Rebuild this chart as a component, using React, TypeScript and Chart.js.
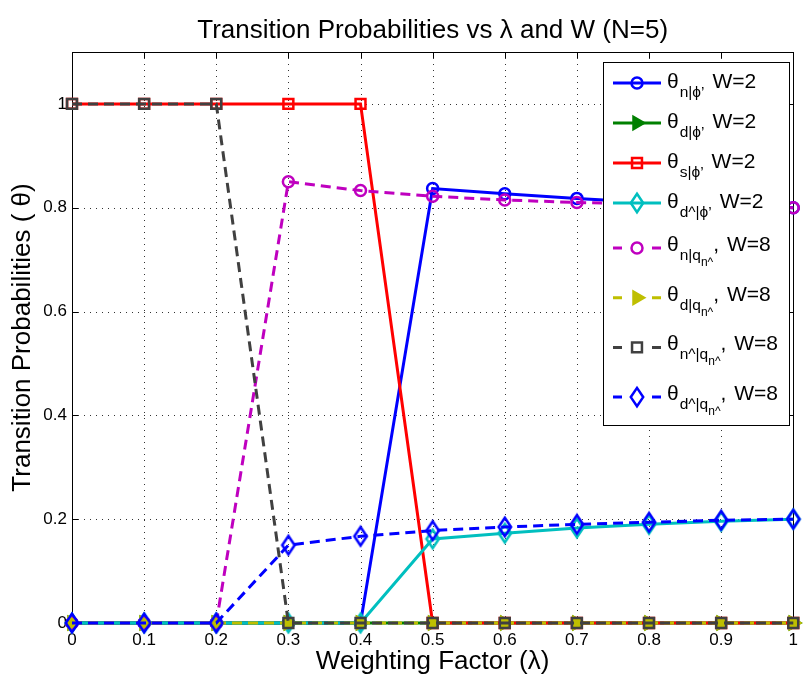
import React, { useEffect, useRef } from 'react';
import { Chart, registerables } from 'chart.js';

Chart.register(...registerables);

// ---------------- data ----------------
const lambda = [0, 0.1, 0.2, 0.3, 0.4, 0.5, 0.6, 0.7, 0.8, 0.9, 1];
const xTickLabels = ['0', '0.1', '0.2', '0.3', '0.4', '0.5', '0.6', '0.7', '0.8', '0.9', '1'];
const yTickValues = [0, 0.2, 0.4, 0.6, 0.8, 1];
const yTickLabels = ['0', '0.2', '0.4', '0.6', '0.8', '1'];

const thetaN_W2 = [0, 0, 0, 0, 0, 0.837, 0.827, 0.818, 0.81, 0.805, 0.8];
const thetaD_W2 = [0, 0, 0, 0, 0, 0, 0, 0, 0, 0, 0];
const thetaS_W2 = [1, 1, 1, 1, 1, 0, 0, 0, 0, 0, 0];
const thetaDhat_W2 = [0, 0, 0, 0, 0, 0.162, 0.173, 0.183, 0.19, 0.196, 0.2];
const thetaN_W8 = [0, 0, 0, 0.85, 0.833, 0.822, 0.815, 0.81, 0.807, 0.803, 0.8];
const thetaD_W8 = [0, 0, 0, 0, 0, 0, 0, 0, 0, 0, 0];
const thetaNhat_W8 = [1, 1, 1, 0, 0, 0, 0, 0, 0, 0, 0];
const thetaDhat_W8 = [0, 0, 0, 0.15, 0.167, 0.178, 0.185, 0.19, 0.194, 0.198, 0.2];

const titleText = 'Transition Probabilities vs \u03bb and W (N=5)';
const xTitle = 'Weighting Factor (\u03bb)';
const yTitle = 'Transition Probabilities ( \u03b8)';

const FONT = "'Liberation Sans', Arial, Helvetica, 'DejaVu Sans', sans-serif";

type Spec = {
  values: number[];
  color: string;
  dashed: boolean;
  marker: 'circle' | 'triangle' | 'rect' | 'diamond';
  filled: boolean;
  sub: string;
  subsub: string;
  w: string;
};

const series: Spec[] = [
  { values: thetaN_W2, color: '#0000ff', dashed: false, marker: 'circle', filled: false, sub: 'n|\u03d5\u2019', subsub: '', w: 'W=2' },
  { values: thetaD_W2, color: '#008000', dashed: false, marker: 'triangle', filled: true, sub: 'd|\u03d5\u2019', subsub: '', w: 'W=2' },
  { values: thetaS_W2, color: '#ff0000', dashed: false, marker: 'rect', filled: false, sub: 's|\u03d5\u2019', subsub: '', w: 'W=2' },
  { values: thetaDhat_W2, color: '#00bfbf', dashed: false, marker: 'diamond', filled: false, sub: 'd^|\u03d5\u2019', subsub: '', w: 'W=2' },
  { values: thetaN_W8, color: '#bf00bf', dashed: true, marker: 'circle', filled: false, sub: 'n|q', subsub: 'n^', w: 'W=8' },
  { values: thetaD_W8, color: '#bfbf00', dashed: true, marker: 'triangle', filled: true, sub: 'd|q', subsub: 'n^', w: 'W=8' },
  { values: thetaNhat_W8, color: '#404040', dashed: true, marker: 'rect', filled: false, sub: 'n^|q', subsub: 'n^', w: 'W=8' },
  { values: thetaDhat_W8, color: '#0000ff', dashed: true, marker: 'diamond', filled: false, sub: 'd^|q', subsub: 'n^', w: 'W=8' },
];

const radiusFor = (m: string) => (m === 'circle' ? 5.5 : m === 'triangle' ? 7 : m === 'rect' ? 7 : 9);
const DIA_HW = 6.2;
const DIA_HH = 9.2;

function diamondPath(ctx: CanvasRenderingContext2D, x: number, y: number) {
  ctx.moveTo(x, y - DIA_HH);
  ctx.lineTo(x + DIA_HW, y);
  ctx.lineTo(x, y + DIA_HH);
  ctx.lineTo(x - DIA_HW, y);
  ctx.closePath();
}

function makeDiamondImage(color: string): HTMLCanvasElement {
  const c = document.createElement('canvas');
  c.width = 18;
  c.height = 24;
  const ctx = c.getContext('2d')!;
  ctx.strokeStyle = color;
  ctx.lineWidth = 2.5;
  ctx.beginPath();
  diamondPath(ctx, 9, 12);
  ctx.stroke();
  return c;
}

function drawMarker(ctx: CanvasRenderingContext2D, s: Spec, x: number, y: number) {
  const r = radiusFor(s.marker);
  ctx.save();
  ctx.setLineDash([]);
  ctx.lineWidth = 2.5;
  ctx.strokeStyle = s.color;
  ctx.fillStyle = s.color;
  ctx.beginPath();
  if (s.marker === 'circle') {
    ctx.arc(x, y, r, 0, Math.PI * 2);
  } else if (s.marker === 'rect') {
    const h = r * Math.SQRT1_2;
    ctx.rect(x - h, y - h, 2 * h, 2 * h);
  } else if (s.marker === 'diamond') {
    diamondPath(ctx, x, y);
  } else {
    for (let k = 0; k < 3; k++) {
      const a = (k * 2 * Math.PI) / 3;
      const px = x + Math.cos(a) * r;
      const py = y + Math.sin(a) * r;
      if (k === 0) ctx.moveTo(px, py);
      else ctx.lineTo(px, py);
    }
    ctx.closePath();
  }
  if (s.filled) ctx.fill();
  ctx.stroke();
  ctx.restore();
}

const decorPlugin = {
  id: 'matlabDecor',
  beforeDatasetsDraw(chart: any) {
    const { ctx, chartArea } = chart;
    const { left, right, top, bottom } = chartArea;
    const xs = chart.scales.x;
    const ys = chart.scales.y;
    ctx.save();
    // dotted grid
    ctx.strokeStyle = '#333';
    ctx.lineWidth = 1;
    ctx.setLineDash([1, 5]);
    lambda.forEach((v) => {
      if (v <= 0 || v >= 1) return;
      const px = Math.round(xs.getPixelForValue(v)) + 0.5;
      ctx.beginPath();
      ctx.moveTo(px, bottom);
      ctx.lineTo(px, top);
      ctx.stroke();
    });
    yTickValues.forEach((v) => {
      if (v <= 0) return;
      const py = Math.round(ys.getPixelForValue(v)) + 0.5;
      ctx.beginPath();
      ctx.moveTo(left, py);
      ctx.lineTo(right, py);
      ctx.stroke();
    });
    // box
    ctx.setLineDash([]);
    ctx.strokeStyle = '#000';
    ctx.lineWidth = 1;
    ctx.strokeRect(Math.round(left) + 0.5, Math.round(top) + 0.5, Math.round(right - left), Math.round(bottom - top));
    // inward ticks
    const tl = 6;
    lambda.forEach((v) => {
      const px = Math.round(xs.getPixelForValue(v)) + 0.5;
      ctx.beginPath();
      ctx.moveTo(px, bottom);
      ctx.lineTo(px, bottom - tl);
      ctx.moveTo(px, top);
      ctx.lineTo(px, top + tl);
      ctx.stroke();
    });
    yTickValues.forEach((v) => {
      const py = Math.round(ys.getPixelForValue(v)) + 0.5;
      ctx.beginPath();
      ctx.moveTo(left, py);
      ctx.lineTo(left + tl, py);
      ctx.moveTo(right, py);
      ctx.lineTo(right - tl, py);
      ctx.stroke();
    });
    ctx.restore();
  },
  afterDraw(chart: any) {
    const { ctx, chartArea } = chart;
    ctx.save();
    // title
    ctx.fillStyle = '#000';
    ctx.font = `26px ${FONT}`;
    ctx.textAlign = 'center';
    ctx.textBaseline = 'alphabetic';
    ctx.fillText(titleText, (chartArea.left + chartArea.right) / 2, 38);

    // legend
    const lx = 603, ly = 62, lw = 186, lh = 363;
    ctx.fillStyle = '#fff';
    ctx.fillRect(lx, ly, lw, lh);
    ctx.strokeStyle = '#000';
    ctx.lineWidth = 1;
    ctx.strokeRect(lx + 0.5, ly + 0.5, lw, lh);
    series.forEach((s, i) => {
      const yc = i < 4 ? ly + 21 + i * 40 : ly + 186 + (i - 4) * 49.7;
      ctx.strokeStyle = s.color;
      ctx.lineWidth = 3;
      ctx.beginPath();
      if (s.dashed) {
        ctx.moveTo(613, yc);
        ctx.lineTo(622, yc);
        ctx.moveTo(652, yc);
        ctx.lineTo(661, yc);
      } else {
        ctx.moveTo(613, yc);
        ctx.lineTo(661, yc);
      }
      ctx.stroke();
      drawMarker(ctx, s, 637, yc);
      // text
      ctx.fillStyle = '#000';
      ctx.textAlign = 'left';
      ctx.textBaseline = 'alphabetic';
      const base = s.subsub ? yc + 3 : yc + 5;
      let x = 667;
      ctx.font = `21px ${FONT}`;
      ctx.fillText('\u03b8', x, base);
      x += ctx.measureText('\u03b8').width + 1;
      ctx.font = `15.5px ${FONT}`;
      ctx.fillText(s.sub, x, base + 9);
      x += ctx.measureText(s.sub).width;
      if (s.subsub) {
        ctx.font = `12px ${FONT}`;
        ctx.fillText(s.subsub, x, base + 15);
        x += ctx.measureText(s.subsub).width;
        ctx.font = `21px ${FONT}`;
        ctx.fillText(',', x, base);
        x += ctx.measureText(', ').width + 2;
      } else {
        x += 8;
      }
      ctx.font = `21px ${FONT}`;
      ctx.fillText(s.w, x, base);
    });
    ctx.restore();
  },
};

export default function App() {
  const ref = useRef<HTMLCanvasElement | null>(null);
  useEffect(() => {
    if (!ref.current) return;
    const chart = new Chart(ref.current, {
      type: 'line',
      data: {
        datasets: series.map((s, i) => ({
          label: s.sub + ' ' + s.w,
          data: lambda.map((x, k) => ({ x, y: s.values[k] })),
          borderColor: s.color,
          backgroundColor: 'rgba(0,0,0,0)',
          borderWidth: 3,
          borderDash: s.dashed ? [10, 6] : [],
          pointStyle: s.marker === 'diamond' ? (makeDiamondImage(s.color) as any) : s.marker,
          pointRadius: radiusFor(s.marker),
          pointRotation: s.marker === 'triangle' ? 90 : 0,
          pointBorderWidth: 2.5,
          pointBorderColor: s.color,
          pointBackgroundColor: s.filled ? s.color : 'rgba(0,0,0,0)',
          fill: false,
          tension: 0,
          clip: false as any,
          order: series.length - i,
        })),
      },
      plugins: [decorPlugin],
      options: {
        animation: false,
        responsive: false,
        devicePixelRatio: 1,
        layout: { padding: { left: 0, right: 8, top: 52, bottom: 0 } },
        plugins: { legend: { display: false }, title: { display: false }, tooltip: { enabled: false } },
        scales: {
          x: {
            type: 'linear',
            min: 0,
            max: 1,
            grid: { display: false, drawTicks: false },
            border: { display: false },
            afterFit: (sc: any) => { sc.height = 52; },
            afterBuildTicks: (sc: any) => { sc.ticks = lambda.map((v) => ({ value: v })); },
            ticks: {
              padding: 7,
              color: '#000',
              font: { size: 17, family: FONT },
              maxRotation: 0,
              autoSkip: false,
              callback: (_v: any, idx: number) => xTickLabels[idx],
            },
            title: {
              display: true,
              text: xTitle,
              color: '#000',
              font: { size: 26, family: FONT, lineHeight: 1 },
              padding: { top: 0, bottom: 0 },
            },
          },
          y: {
            type: 'linear',
            min: 0,
            max: 1.1,
            grid: { display: false, drawTicks: false },
            border: { display: false },
            afterFit: (sc: any) => { sc.width = 72; },
            afterBuildTicks: (sc: any) => { sc.ticks = yTickValues.map((v) => ({ value: v })); },
            ticks: {
              padding: 5,
              color: '#000',
              font: { size: 17, family: FONT },
              autoSkip: false,
              callback: (_v: any, idx: number) => yTickLabels[idx],
            },
            title: {
              display: true,
              text: yTitle,
              color: '#000',
              font: { size: 26, family: FONT, lineHeight: 1 },
              padding: { top: 10, bottom: 0 },
            },
          },
        },
      },
    });
    return () => chart.destroy();
  }, []);
  return (
    <div style={{ position: 'fixed', left: 0, top: 0, width: 805, height: 675, background: '#fff' }}>
      <canvas ref={ref} width={805} height={675} style={{ width: 805, height: 675, display: 'block' }} />
    </div>
  );
}
